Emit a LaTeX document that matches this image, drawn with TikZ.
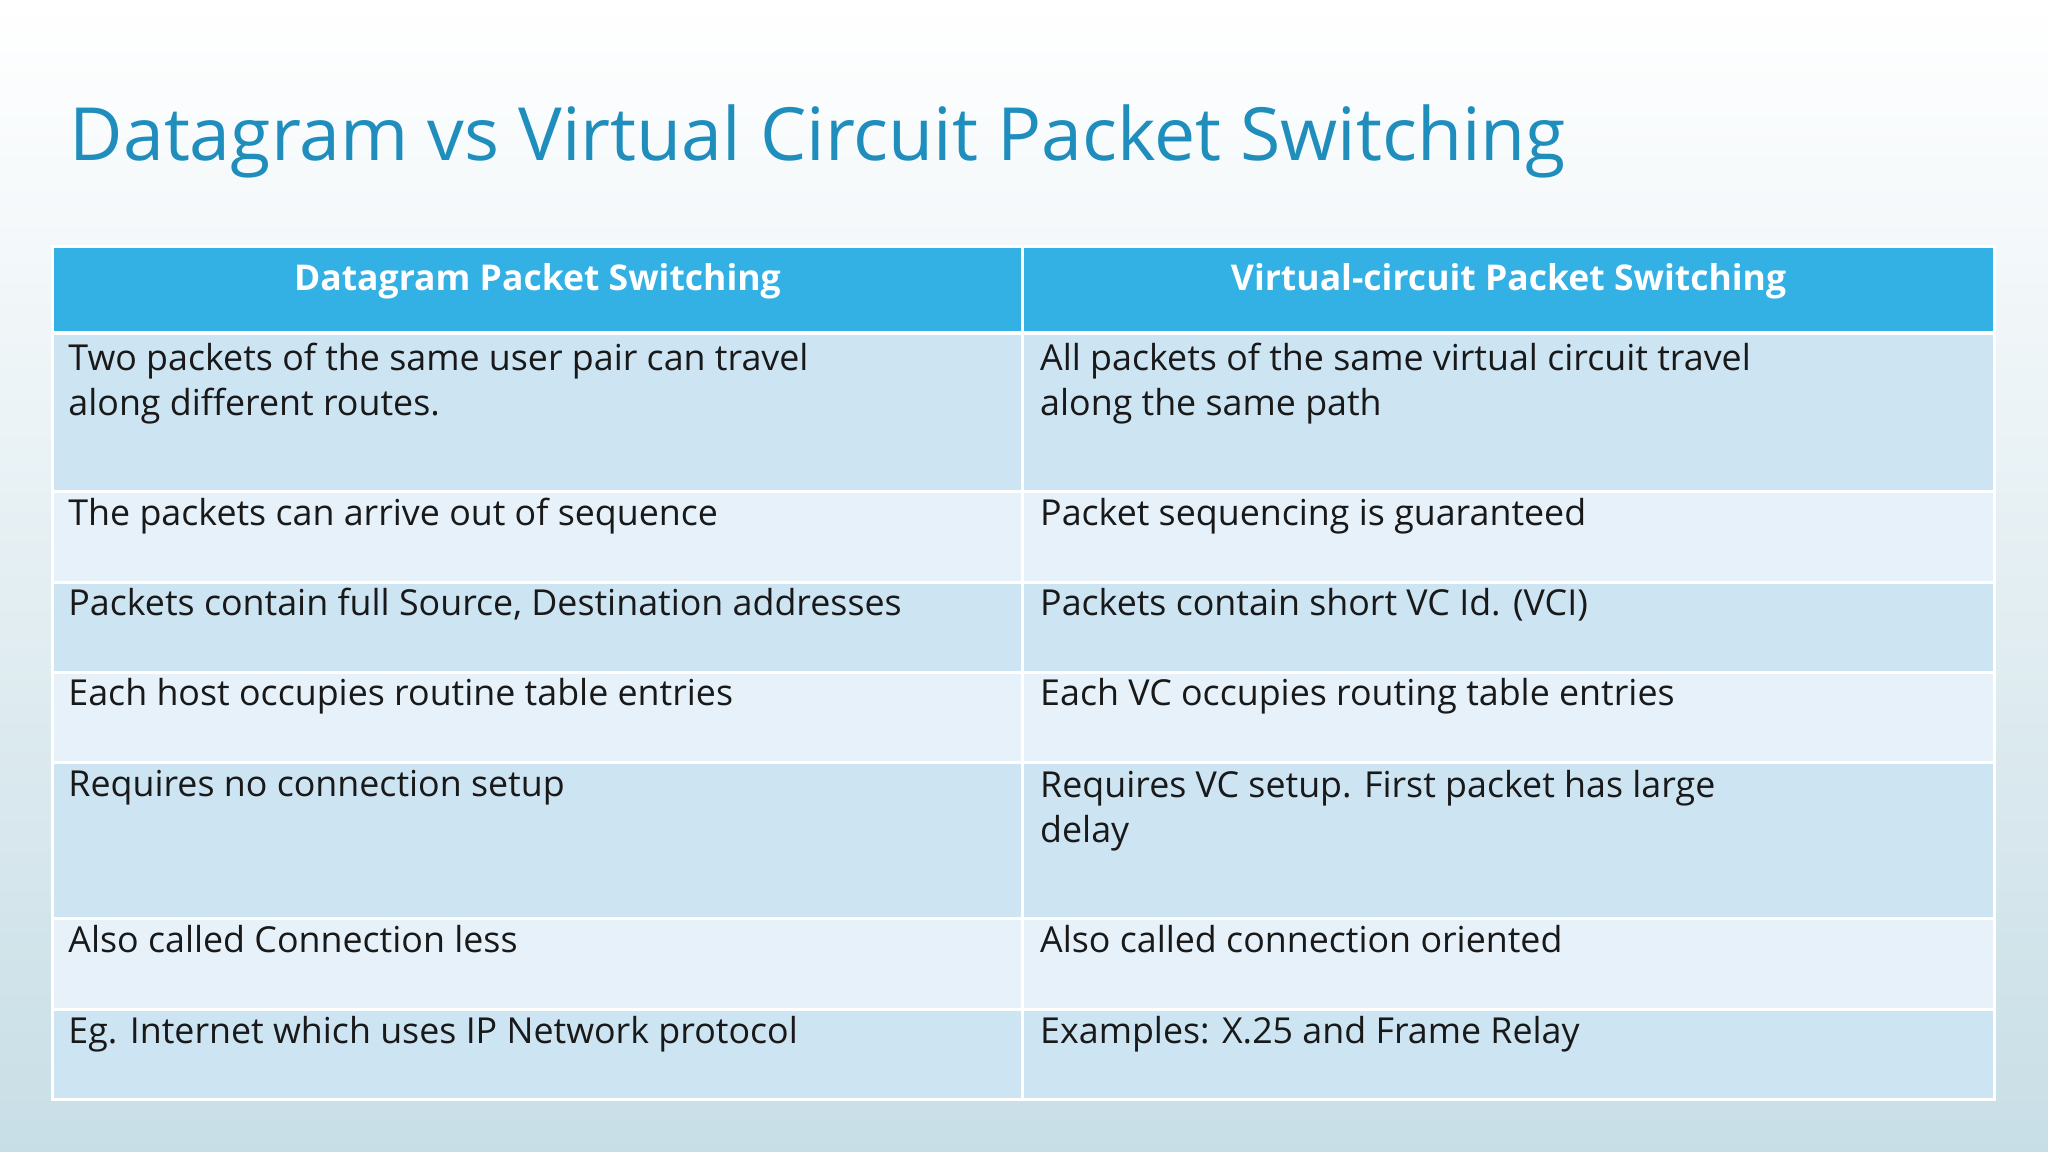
\documentclass[tikz,border=0pt]{standalone}
\usepackage{fontspec}
\setmainfont{Open Sans}
\begin{document}
\begin{tikzpicture}[x=0.5pt,y=-0.5pt,
  cell/.style={anchor=north west,inner sep=0pt,align=left,font=\fontsize{13.7}{17.5}\selectfont,text=black!90},
  head/.style={anchor=center,inner sep=0pt,font=\fontsize{13.6}{16}\selectfont\bfseries,text=white}]
\useasboundingbox (0,0) rectangle (1568,882);
\shade[top color=white,bottom color={rgb,255:red,200;green,222;blue,230}] (0,0) rectangle (1568,882);
\node[anchor=west,inner sep=0pt,font=\fontsize{28.1}{34}\selectfont,text={rgb,255:red,31;green,142;blue,189}] (title) at (53,108) {Datagram vs Virtual Circuit Packet Switching};
\definecolor{hd}{RGB}{51,176,228}
\definecolor{dk}{RGB}{205,228,243}
\definecolor{lt}{RGB}{230,241,249}
\fill[hd] (40,189) rectangle (1527,255);
\foreach \a/\b/\c in {255/376/dk,376/446/lt,446/515/dk,515/584/lt,584/703/dk,703/773/lt,773/842/dk}
  \fill[\c] (40,\a) rectangle (1527,\b);
\foreach \a in {255,376,446,515,584,703,773}
  \draw[white,line width=1.2pt] (40,\a) -- (1527,\a);
\draw[white,line width=1.2pt] (783,189) -- (783,842);
\draw[white,line width=1.2pt] (40,189) rectangle (1527,842);
\node[head] (h1) at (411.5,215) {Datagram Packet Switching};
\node[head] (h2) at (1155,215) {Virtual-circuit Packet Switching};
\node[cell] (a1) at (52,262) {Two packets of the same user pair can travel\\along different routes.};
\node[cell] (b1) at (796,262) {All packets of the same virtual circuit travel\\along the same path};
\node[cell] (a2) at (52,381) {The packets can arrive out of sequence};
\node[cell] (b2) at (796,381) {Packet sequencing is guaranteed};
\node[cell] (a3) at (52,450) {Packets contain full Source, Destination addresses};
\node[cell] (b3) at (796,450) {Packets contain short VC Id. (VCI)};
\node[cell] (a4) at (52,519) {Each host occupies routine table entries};
\node[cell] (b4) at (796,519) {Each VC occupies routing table entries};
\node[cell] (a5) at (52,589) {Requires no connection setup};
\node[cell] (b5) at (796,589) {Requires VC setup. First packet has large\\delay};
\node[cell] (a6) at (52,708) {Also called Connection less};
\node[cell] (b6) at (796,708) {Also called connection oriented};
\node[cell] (a7) at (52,778) {Eg. Internet which uses IP Network protocol};
\node[cell] (b7) at (796,778) {Examples: X.25 and Frame Relay};
\end{tikzpicture}
\end{document}
